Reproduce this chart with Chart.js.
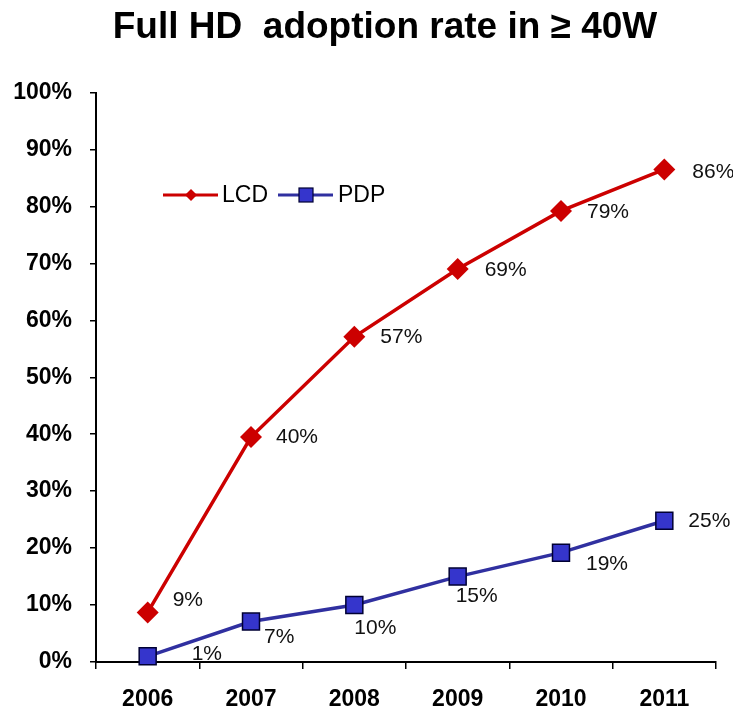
<!DOCTYPE html>
<html>
<head>
<meta charset="utf-8">
<script src="https://cdn.jsdelivr.net/npm/chart.js@4.4.0/dist/chart.umd.min.js"></script>
<style>
html,body{margin:0;padding:0;background:#fff;}
#wrap{width:733px;height:710px;position:relative;}
</style>
</head>
<body>
<div id="wrap"><canvas id="c" width="733" height="710"></canvas></div>
<script>
const categories = ['2006', '2007', '2008', '2009', '2010', '2011'];
const lcdValues = [8.7, 39.5, 57.1, 69.0, 79.2, 86.5];
const pdpValues = [1.0, 7.1, 10.0, 15.0, 19.2, 24.8];
const lcdLabels = ['9%', '40%', '57%', '69%', '79%', '86%'];
const pdpLabels = ['1%', '7%', '10%', '15%', '19%', '25%'];
const yTickValues = [0, 10, 20, 30, 40, 50, 60, 70, 80, 90, 100];

const FONT = '"Liberation Sans", Arial, Helvetica, sans-serif';

// label offsets (style): [dx from point to label left edge, dy of label center]
const lcdLabelOffsets = [[25, -12], [25, 0], [26, 0], [27, 1], [26, 1], [28, 3]];
const pdpLabelOffsets = [[44, -2], [13, 16], [0, 23], [-2, 20], [25, 12], [24, 0]];

const extras = {
  id: 'extras',
  afterDatasetsDraw(chart) {
    const ctx = chart.ctx;
    ctx.save();
    // title
    ctx.fillStyle = '#000';
    ctx.font = 'bold 37px ' + FONT;
    ctx.textAlign = 'center';
    ctx.textBaseline = 'alphabetic';
    ctx.fillText('Full HD  adoption rate in \u2265 40W', 385, 38);

    // data labels
    ctx.font = '21px ' + FONT;
    ctx.textAlign = 'left';
    ctx.textBaseline = 'middle';
    ctx.fillStyle = '#111';
    const sets = [[0, lcdLabels, lcdLabelOffsets], [1, pdpLabels, pdpLabelOffsets]];
    sets.forEach(([di, labels, offs]) => {
      const meta = chart.getDatasetMeta(di);
      meta.data.forEach((pt, i) => {
        ctx.fillText(labels[i], pt.x + offs[i][0], pt.y + offs[i][1]);
      });
    });

    // legend
    const ly = 195;
    ctx.lineWidth = 3;
    ctx.strokeStyle = '#CC0000';
    ctx.beginPath(); ctx.moveTo(163, ly); ctx.lineTo(218, ly); ctx.stroke();
    ctx.fillStyle = '#CC0000';
    ctx.beginPath();
    ctx.moveTo(191 - 6, ly); ctx.lineTo(191, ly - 6); ctx.lineTo(191 + 6, ly); ctx.lineTo(191, ly + 6);
    ctx.closePath(); ctx.fill();
    ctx.strokeStyle = '#3030A0';
    ctx.beginPath(); ctx.moveTo(278, ly); ctx.lineTo(333, ly); ctx.stroke();
    ctx.fillStyle = '#3535CC';
    ctx.fillRect(299, ly - 7, 14, 14);
    ctx.lineWidth = 1.2;
    ctx.strokeStyle = '#000033';
    ctx.strokeRect(299, ly - 7, 14, 14);
    ctx.fillStyle = '#000';
    ctx.font = '23px ' + FONT;
    ctx.textBaseline = 'middle';
    ctx.fillText('LCD', 222, ly + 1);
    ctx.fillText('PDP', 338, ly + 1);
    ctx.restore();
  }
};

new Chart(document.getElementById('c'), {
  type: 'line',
  data: {
    labels: categories,
    datasets: [
      {
        label: 'LCD',
        data: lcdValues,
        borderColor: '#CC0000',
        borderWidth: 3.5,
        pointStyle: 'rectRot',
        pointRadius: 11,
        pointHoverRadius: 11,
        pointBackgroundColor: '#CC0000',
        pointBorderColor: '#CC0000',
        pointBorderWidth: 0,
        tension: 0,
        clip: false
      },
      {
        label: 'PDP',
        data: pdpValues,
        borderColor: '#3030A0',
        borderWidth: 3.5,
        pointStyle: 'rect',
        pointRadius: 12,
        pointHoverRadius: 12,
        pointBackgroundColor: '#3535CC',
        pointBorderColor: '#000033',
        pointBorderWidth: 1.5,
        tension: 0,
        clip: false
      }
    ]
  },
  options: {
    responsive: false,
    animation: false,
    events: [],
    layout: { padding: { top: 92.5, right: 17, left: 0, bottom: 0 } },
    plugins: { legend: { display: false }, title: { display: false }, tooltip: { enabled: false } },
    scales: {
      x: {
        type: 'category',
        offset: true,
        afterFit(s) { s.height = 48; },
        border: { display: true, color: '#000', width: 2 },
        grid: { display: true, offset: true, drawOnChartArea: false, drawTicks: true, tickLength: 7, color: '#000', lineWidth: 1.5 },
        ticks: { color: '#000', font: { family: FONT, size: 23, weight: 'bold' }, padding: 17, maxRotation: 0 }
      },
      y: {
        min: 0,
        max: 100,
        afterFit(s) { s.width = 96; },
        afterBuildTicks(s) { s.ticks = yTickValues.map(v => ({ value: v })); },
        border: { display: true, color: '#000', width: 2 },
        grid: { display: true, drawOnChartArea: false, drawTicks: true, tickLength: 6, color: '#000', lineWidth: 1.5 },
        ticks: { color: '#000', font: { family: FONT, size: 23, weight: 'bold' }, padding: 18, callback: v => v + '%' }
      }
    }
  },
  plugins: [extras]
});
</script>
</body>
</html>
